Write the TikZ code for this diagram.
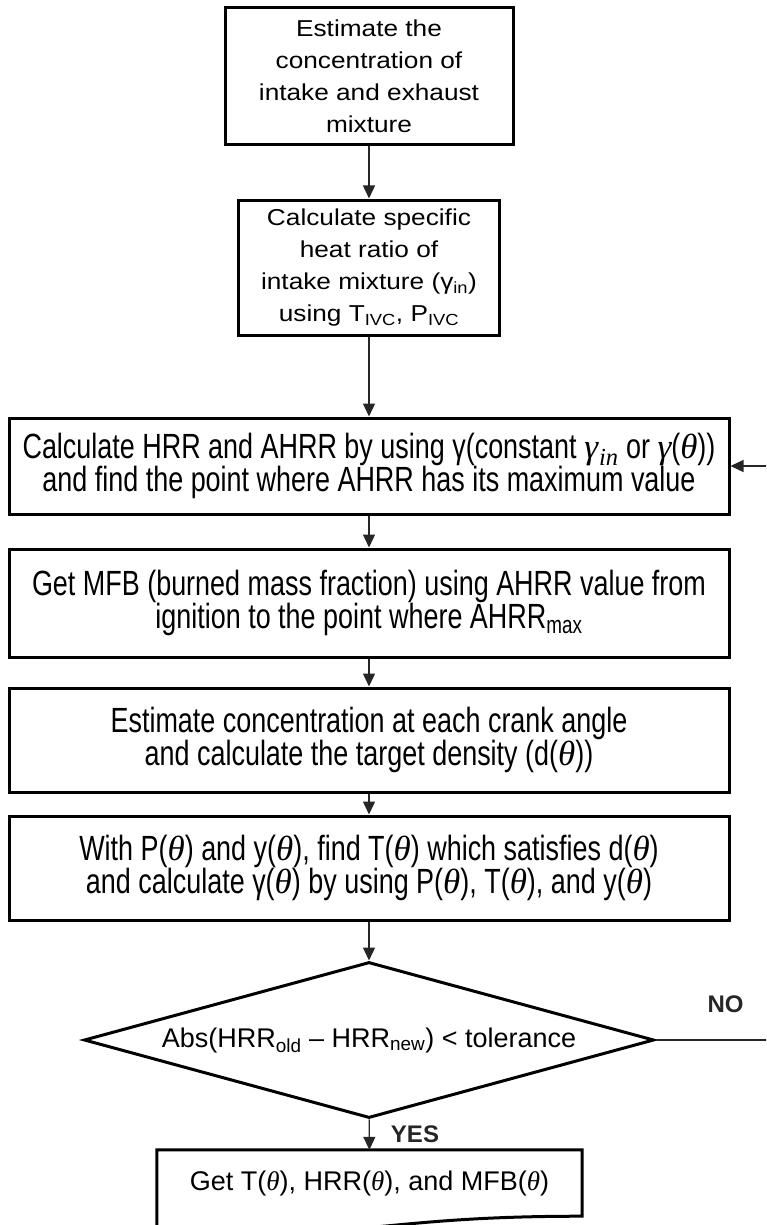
\documentclass[tikz,border=0pt]{standalone}
\usepackage{fontspec}
\setmainfont{Liberation Sans}
\newfontfamily\widesans{Liberation Sans}[FakeStretch=1.14]
\newfontfamily\narrowsans{Liberation Sans}[FakeStretch=0.77]
\newfontfamily\mathserif{Liberation Serif}
\newcommand{\serifit}[1]{{\mathserif\itshape #1}}
\newcommand{\thet}{\serifit{θ}}
\usetikzlibrary{arrows.meta,shapes.geometric,positioning}

\tikzset{
    stepbox/.style={draw, line width=3pt, align=center, inner sep=0pt},
    topbox/.style={stepbox, font=\widesans\fontsize{23}{32}\selectfont},
    longbox/.style={stepbox, minimum width=720pt, minimum height=104pt,
        font=\narrowsans\fontsize{35}{33.6}\selectfont},
    flow/.style={->, line width=1.3pt, black!85},
    answer/.style={font=\bfseries\fontsize{24}{28}\selectfont, inner sep=0pt}
}

\begin{document}
\begin{tikzpicture}[x=1pt, y=-1pt, >={Triangle[width=12pt,length=13pt]}]
    % Frame
    \useasboundingbox (0,0) rectangle (766,1225);
    \clip (0,0) rectangle (766,1225);

    % Inputs
    \node[topbox, minimum width=288pt, minimum height=137pt] (conc) at (369,76.5)
        {Estimate the\\concentration of\\intake and exhaust\\mixture};
    \node[topbox, minimum width=261pt, minimum height=135pt] (gamin) at (369,267.5)
        {Calculate specific\\heat ratio of\\intake mixture (γ\textsubscript{in})\\using T\textsubscript{IVC}, P\textsubscript{IVC}};

    % Iteration
    \node[longbox, minimum height=96pt] (hrr) at (369,466)
        {Calculate HRR and AHRR by using γ(constant \serifit{γ}\kern1pt\textsubscript{\serifit{in}} or \serifit{γ}(\thet))\\and find the point where AHRR has its maximum value};
    \node[longbox, minimum height=108pt] (mfb) at (369,603)
        {Get MFB (burned mass fraction) using AHRR value from\\ignition to the point where AHRR\textsubscript{max}};
    \node[longbox] (dens) at (369,740)
        {Estimate concentration at each crank angle\\and calculate the target density (d(\thet))};
    \node[longbox] (temp) at (369,868)
        {With P(\thet) and y(\thet), find T(\thet) which satisfies d(\thet)\\and calculate γ(\thet) by using P(\thet), T(\thet), and y(\thet)};

    % Check
    \node[draw, diamond, line width=3pt, aspect=3.8, inner sep=0pt,
          minimum width=570pt, minimum height=156pt,
          font=\fontsize{27}{30}\selectfont] (check) at (369,1040)
        {Abs(HRR\textsubscript{old} – HRR\textsubscript{new}) < tolerance};

    % Result
    \node[minimum width=425pt, minimum height=66pt, inner sep=0pt,
          font=\fontsize{27}{30}\selectfont] (res) at (369.5,1183)
        {Get T(\thet), HRR(\thet), and MFB(\thet)};
    \draw[line width=3pt] (res.north west) -- (res.north east) -- (res.south east)
        .. controls ([xshift=-212pt]res.south east) and ([xshift=-212pt, yshift=-26pt]res.south east)
        .. ([yshift=-12pt]res.south west) -- cycle;

    % Arrows
    \draw[flow] (conc) -- (gamin);
    \draw[flow] (gamin) -- (hrr);
    \draw[flow] (hrr) -- (mfb);
    \draw[flow] (mfb) -- (dens);
    \draw[flow] (dens) -- (temp);
    \draw[flow] (temp) -- (check);
    \draw[flow] (check) -- node[answer, right=21pt] {YES} (res);
    \draw[flow] (check.east) -- node[answer, above=27pt] {NO} ++(140,0) |- (hrr.east);
\end{tikzpicture}
\end{document}
